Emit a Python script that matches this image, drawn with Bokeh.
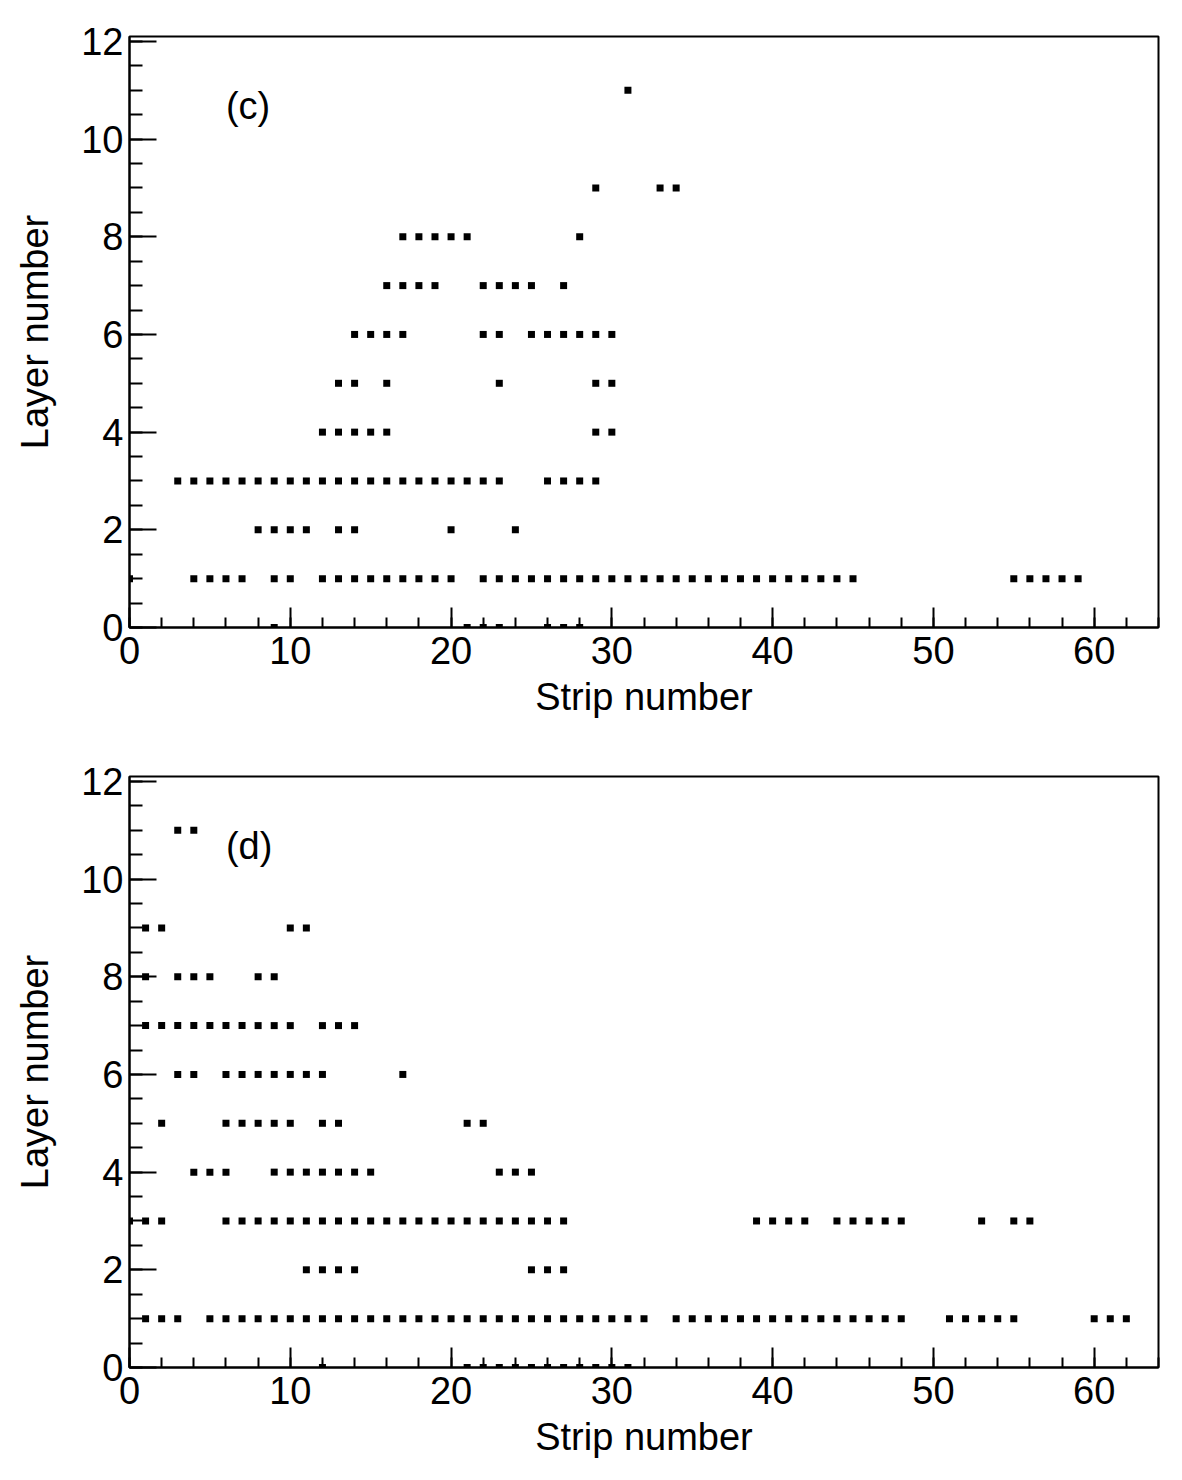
from bokeh.plotting import figure
from bokeh.layouts import column
from bokeh.models import FixedTicker, Label, Range1d
from bokeh.embed import file_html
from bokeh.resources import INLINE

# Fired strips per detector layer, panel (c)
c_layer_0 = [9, 21, 22, 23, 26, 27, 28]
c_layer_1 = [0, 4, 5, 6, 7, 9, 10, 12, 13, 14, 15, 16, 17, 18, 19, 20,
             22, 23, 24, 25, 26, 27, 28, 29, 30, 31, 32, 33, 34, 35, 36, 37,
             38, 39, 40, 41, 42, 43, 44, 45, 55, 56, 57, 58, 59]
c_layer_2 = [8, 9, 10, 11, 13, 14, 20, 24]
c_layer_3 = [3, 4, 5, 6, 7, 8, 9, 10, 11, 12, 13, 14, 15, 16, 17, 18, 19,
             20, 21, 22, 23, 26, 27, 28, 29]
c_layer_4 = [12, 13, 14, 15, 16, 29, 30]
c_layer_5 = [13, 14, 16, 23, 29, 30]
c_layer_6 = [14, 15, 16, 17, 22, 23, 25, 26, 27, 28, 29, 30]
c_layer_7 = [16, 17, 18, 19, 22, 23, 24, 25, 27]
c_layer_8 = [17, 18, 19, 20, 21, 28]
c_layer_9 = [29, 33, 34]
c_layer_10 = []
c_layer_11 = [31]

# Fired strips per detector layer, panel (d)
d_layer_0 = [12, 21, 22, 23, 24, 25, 26, 27, 28, 29, 30, 31]
d_layer_1 = [1, 2, 3, 5, 6, 7, 8, 9, 10, 11, 12, 13, 14, 15, 16, 17, 18,
             19, 20, 21, 22, 23, 24, 25, 26, 27, 28, 29, 30, 31, 32,
             34, 35, 36, 37, 38, 39, 40, 41, 42, 43, 44, 45, 46, 47, 48,
             51, 52, 53, 54, 55, 60, 61, 62]
d_layer_2 = [11, 12, 13, 14, 25, 26, 27]
d_layer_3 = [0, 1, 2, 6, 7, 8, 9, 10, 11, 12, 13, 14, 15, 16, 17, 18, 19,
             20, 21, 22, 23, 24, 25, 26, 27, 39, 40, 41, 42, 44, 45, 46, 47,
             48, 53, 55, 56]
d_layer_4 = [4, 5, 6, 9, 10, 11, 12, 13, 14, 15, 23, 24, 25]
d_layer_5 = [2, 6, 7, 8, 9, 10, 12, 13, 21, 22]
d_layer_6 = [3, 4, 6, 7, 8, 9, 10, 11, 12, 17]
d_layer_7 = [1, 2, 3, 4, 5, 6, 7, 8, 9, 10, 12, 13, 14]
d_layer_8 = [1, 3, 4, 5, 8, 9]
d_layer_9 = [1, 2, 10, 11]
d_layer_10 = []
d_layer_11 = [3, 4]

panel_c = [c_layer_0, c_layer_1, c_layer_2, c_layer_3, c_layer_4, c_layer_5,
           c_layer_6, c_layer_7, c_layer_8, c_layer_9, c_layer_10, c_layer_11]
panel_d = [d_layer_0, d_layer_1, d_layer_2, d_layer_3, d_layer_4, d_layer_5,
           d_layer_6, d_layer_7, d_layer_8, d_layer_9, d_layer_10, d_layer_11]

x_major = [0, 10, 20, 30, 40, 50, 60]
x_minor = list(range(0, 65, 2))
y_major = [0, 2, 4, 6, 8, 10, 12]
y_minor = [i * 0.5 for i in range(0, 25)]

FONT = "Liberation Sans"
FSIZE = "38px"


def make_panel(layers, tag):
    p = figure(width=1182, height=740,
               x_range=Range1d(0, 64), y_range=Range1d(0, 12.1),
               output_backend="svg", toolbar_location=None,
               min_border_left=129, min_border_right=24,
               min_border_top=36, min_border_bottom=113,
               background_fill_color="white", border_fill_color="white")
    p.grid.visible = False
    p.outline_line_color = "black"
    p.outline_line_width = 2
    p.outline_line_alpha = 1.0

    xs, ys = [], []
    for layer, strips in enumerate(layers):
        for s in strips:
            xs.append(s)
            ys.append(layer)
    p.scatter(xs, ys, marker="square", size=7, color="black", line_width=0)

    for ax in (p.xaxis[0], p.yaxis[0]):
        ax.axis_line_width = 2
        ax.axis_line_color = "black"
        ax.major_tick_line_width = 2
        ax.minor_tick_line_width = 2
        ax.major_tick_out = 0
        ax.minor_tick_out = 0
        ax.major_label_text_font = FONT
        ax.major_label_text_font_size = FSIZE
        ax.major_label_text_color = "black"
        ax.axis_label_text_font = FONT
        ax.axis_label_text_font_size = FSIZE
        ax.axis_label_text_font_style = "normal"
        ax.axis_label_text_color = "black"

    xa = p.xaxis[0]
    xa.ticker = FixedTicker(ticks=x_major, minor_ticks=x_minor)
    xa.major_tick_in = 20
    xa.minor_tick_in = 10
    xa.major_label_standoff = 9
    xa.axis_label = "Strip number"
    xa.axis_label_standoff = 9

    ya = p.yaxis[0]
    ya.ticker = FixedTicker(ticks=y_major, minor_ticks=y_minor)
    ya.major_tick_in = 27
    ya.minor_tick_in = 13
    ya.major_label_standoff = 6
    ya.axis_label = "Layer number"
    ya.axis_label_standoff = 22

    p.add_layout(Label(x=6.0, y=10.68, text=tag, text_font=FONT,
                       text_font_size=FSIZE, text_color="black",
                       text_baseline="alphabetic", text_align="left"))
    return p


top = make_panel(panel_c, "(c)")
bottom = make_panel(panel_d, "(d)")

layout = column(top, bottom, spacing=0)
open("out.html", "w").write(file_html(layout, INLINE))
